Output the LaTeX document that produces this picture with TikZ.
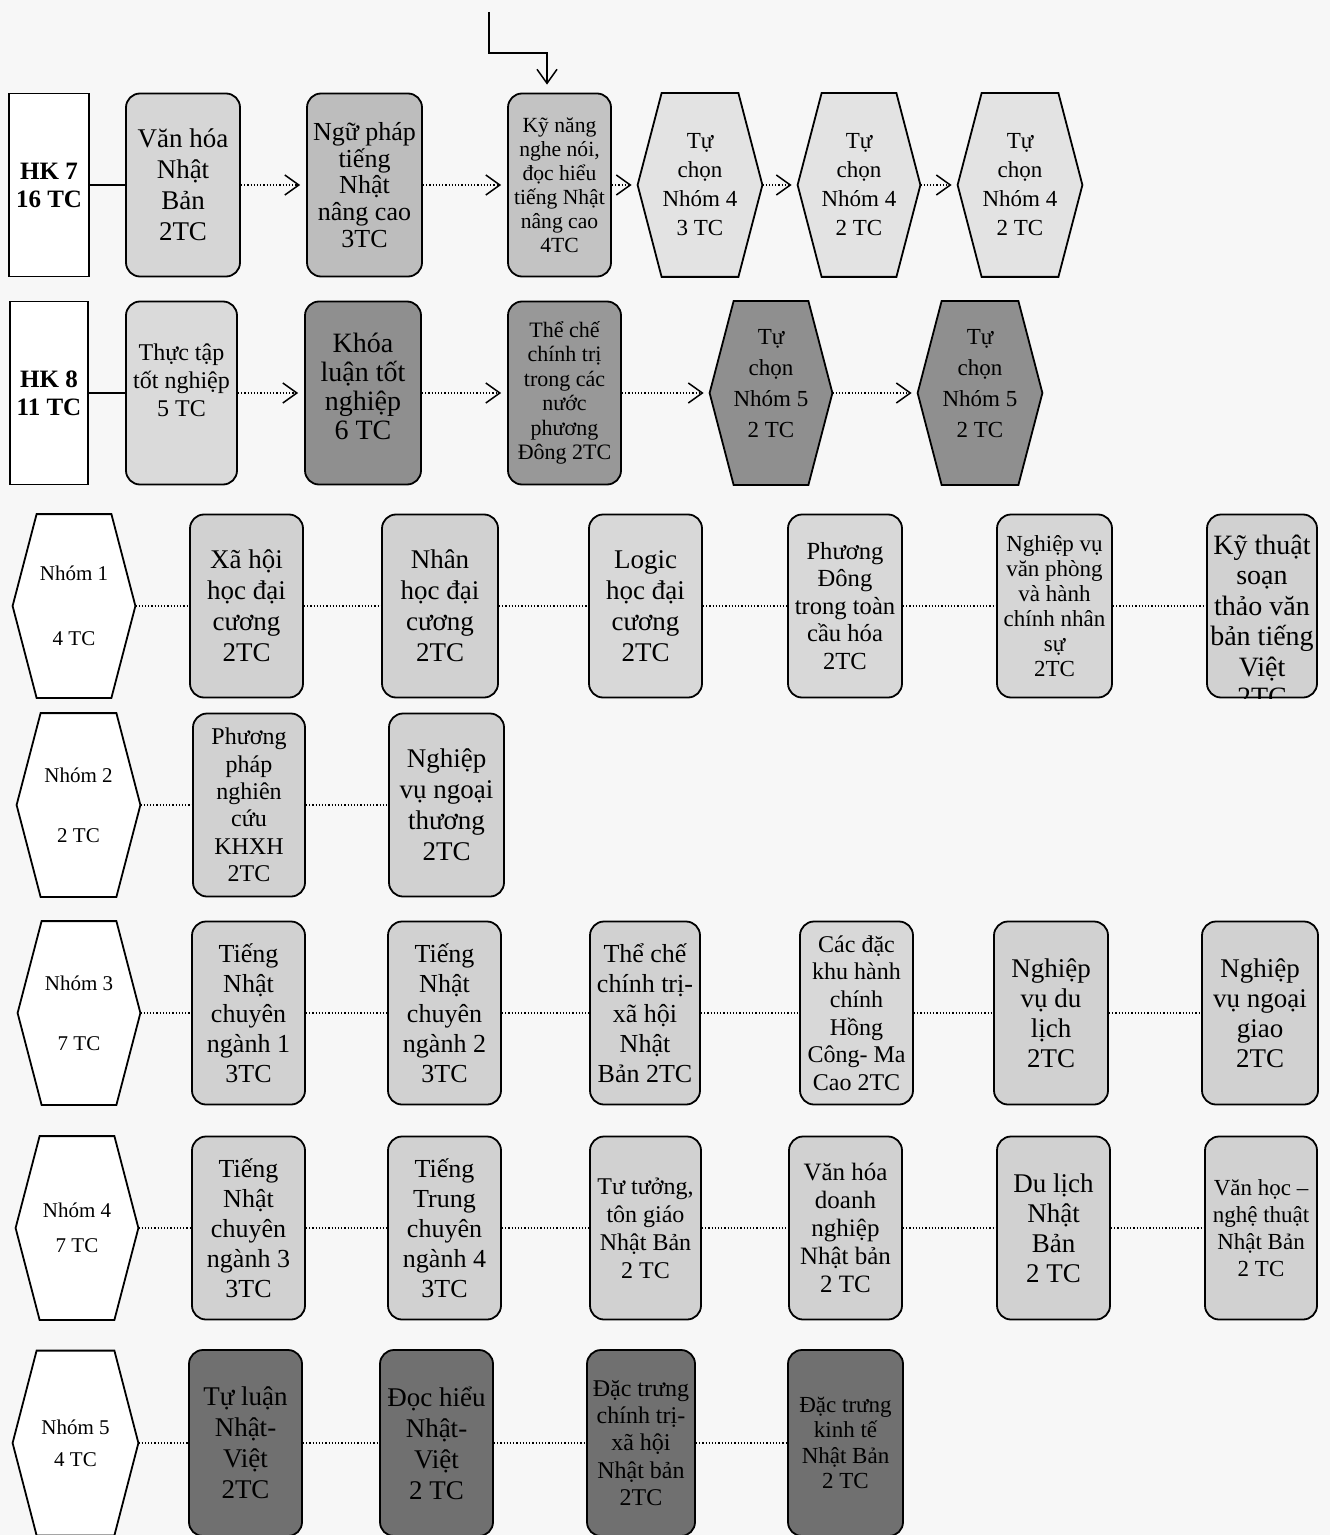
\documentclass[tikz,border=0pt]{standalone}
\usepackage{fontspec}
\setmainfont{Liberation Serif}
\usetikzlibrary{arrows.meta,positioning,backgrounds}
\colorlet{paper}{black!3}
\colorlet{pale}{black!11}
\colorlet{boxgray}{black!18}
\colorlet{midgray}{black!26}
\colorlet{darkgray}{black!44}
\colorlet{deepgray}{black!56}
\tikzset{
  fs/.style 2 args={font=\fontsize{#1}{#2}\selectfont},
  course/.style={draw, line width=0.9pt, rounded corners=7pt, align=center, inner sep=1pt,
    minimum width=56.5pt, minimum height=91.5pt, fill=boxgray},
  hexa/.style={align=center, inner sep=0pt, minimum width=61.5pt, minimum height=91.5pt},
  term/.style={draw, line width=0.9pt, fill=white, align=center, minimum width=39pt,
    minimum height=91.5pt, font=\fontsize{12.5}{14}\selectfont\bfseries},
  flow/.style={densely dotted, line width=0.6pt,
    -{Straight Barb[length=7pt,width=10pt,line width=0.75pt]}, shorten >=3pt},
  link/.style={densely dotted, line width=0.6pt},
  feed/.style={line width=0.6pt},
}
\begin{document}
\begin{tikzpicture}[x=0.5pt, y=-0.5pt]
    \useasboundingbox (0,0) rectangle (1330,1535);
    % HK 7
    \node[term] (hk7) at (49,185) {HK 7\\16 TC};
    \node[course, fill=boxgray!90, fs={13.5}{15.5}, minimum width=57pt] (vh) at (183,185) {Văn hóa\\Nhật\\Bản\\2TC};
    \node[course, fill=midgray, fs={13}{13.3}, minimum width=57.5pt] (np) at (364.5,185) {Ngữ pháp\\tiếng\\Nhật\\nâng cao\\3TC};
    \node[course, fill=midgray!90, fs={10.8}{12}, minimum width=51.5pt] (kn) at (559.5,185) {Kỹ năng\\nghe nói,\\đọc hiểu\\tiếng Nhật\\nâng cao\\4TC};
    \node[hexa, fs={11.5}{14.5}, minimum width=62pt] (t1) at (700,185) {Tự\\chọn\\Nhóm 4\\3 TC};
    \node[hexa, fs={11.5}{14.5}, minimum width=61pt] (t2) at (859,185) {Tự\\chọn\\Nhóm 4\\2 TC};
    \node[hexa, fs={11.5}{14.5}, minimum width=62pt] (t3) at (1020,185) {Tự\\chọn\\Nhóm 4\\2 TC};
    % HK 8
    \node[term] (hk8) at (49,393) {HK 8\\11 TC};
    \node[course, fill=boxgray!80, fs={12}{14}, minimum width=55.5pt] (tt) at (181.5,393) {Thực tập\\tốt nghiệp\\5 TC\\[-1pt]};
    \node[course, fill=darkgray, fs={14}{14.5}, minimum width=58pt] (kl) at (363,393) {Khóa\\luận tốt\\nghiệp\\6 TC\\[-8pt]};
    \node[course, fill=darkgray!92, fs={11}{12.2}] (tc) at (564.5,393) {Thể chế\\chính trị\\trong các\\nước\\phương\\Đông 2TC};
    \node[hexa, fs={11.5}{15.5}, minimum width=61pt] (t4) at (771,393) {Tự\\chọn\\Nhóm 5\\2 TC\\[-6pt]};
    \node[hexa, fs={11.5}{15.5}, minimum width=62pt] (t5) at (980,393) {Tự\\chọn\\Nhóm 5\\2 TC\\[-6pt]};
    % Nhom 1
    \node[hexa, fs={10.5}{15}, minimum width=61pt] (n1) at (74,606) {Nhóm 1\\[17.5pt]4 TC};
    \node[course, fs={13.5}{15.5}] (a1) at (246.5,606) {Xã hội\\học đại\\cương\\2TC};
    \node[course, fs={13.5}{15.5}, minimum width=58pt] (a2) at (440,606) {Nhân\\học đại\\cương\\2TC};
    \node[course, fill=boxgray!85, fs={13.5}{15.5}] (a3) at (645.5,606) {Logic\\học đại\\cương\\2TC};
    \node[course, fill=boxgray!85, fs={12.3}{13.75}, minimum width=57pt] (a4) at (845,606) {Phương\\Đông\\trong toàn\\cầu hóa\\2TC};
    \node[course, fill=boxgray!90, fs={11.5}{12.5}, minimum width=57.5pt] (a5) at (1054.5,606) {Nghiệp vụ\\văn phòng\\và hành\\chính nhân\\sự\\2TC};
    \node[course, minimum width=55pt] (a6) at (1262,606) {};
    \begin{scope}
    \clip[rounded corners=7pt] (a6.south west) rectangle (a6.north east);
    \node[fs={14}{15.25}, align=center, inner sep=0pt, below=10.5pt of a6.north] (a6t) {Kỹ thuật\\soạn\\thảo văn\\bản tiếng\\Việt\\2TC};
    \end{scope}
    % Nhom 2
    \node[hexa, fs={10.5}{15}, minimum width=61.5pt] (n2) at (78.5,805) {Nhóm 2\\[15pt]2 TC};
    \node[course, fs={12}{13.7}, minimum width=56pt] (b1) at (249,805) {Phương\\pháp\\nghiên\\cứu\\KHXH\\2TC};
    \node[course, fs={13.5}{15.5}, minimum width=57.5pt] (b2) at (446.5,805) {Nghiệp\\vụ ngoại\\thương\\2TC};
    % Nhom 3
    \node[hexa, fs={10.5}{15}, minimum width=61pt] (n3) at (79,1013) {Nhóm 3\\[15pt]7 TC};
    \node[course, fs={13}{15}] (c1) at (248.5,1013) {Tiếng\\Nhật\\chuyên\\ngành 1\\3TC};
    \node[course, fs={13}{15}] (c2) at (444.5,1013) {Tiếng\\Nhật\\chuyên\\ngành 2\\3TC};
    \node[course, fs={13}{15}, minimum width=55pt] (c3) at (645,1013) {Thể chế\\chính trị-\\xã hội\\Nhật\\Bản 2TC};
    \node[course, fill=boxgray!85, fs={12}{13.8}] (c4) at (856.5,1013) {Các đặc\\khu hành\\chính\\Hồng\\Công- Ma\\Cao 2TC};
    \node[course, fs={13.5}{15}, minimum width=57pt] (c5) at (1051,1013) {Nghiệp\\vụ du\\lịch\\2TC};
    \node[course, fs={13.5}{15}, minimum width=58pt] (c6) at (1260,1013) {Nghiệp\\vụ ngoại\\giao\\2TC};
    % Nhom 4
    \node[hexa, fs={10.5}{17.5}, minimum width=61pt] (n4) at (77,1228) {Nhóm 4\\7 TC};
    \node[course, fs={13}{15}] (d1) at (248.5,1228) {Tiếng\\Nhật\\chuyên\\ngành 3\\3TC};
    \node[course, fs={13}{15}] (d2) at (444.5,1228) {Tiếng\\Trung\\chuyên\\ngành 4\\3TC};
    \node[course, fs={12}{14}, minimum width=55.5pt] (d3) at (645.5,1228) {Tư tưởng,\\tôn giáo\\Nhật Bản\\2 TC};
    \node[course, fs={12.5}{14}] (d4) at (845.5,1228) {Văn hóa\\doanh\\nghiệp\\Nhật bản\\2 TC};
    \node[course, fs={13.5}{15}] (d5) at (1053.5,1228) {Du lịch\\Nhật\\Bản\\2 TC};
    \node[course, fs={11.5}{13.5}, minimum width=56pt] (d6) at (1261,1228) {Văn học –\\nghệ thuật\\Nhật Bản\\2 TC};
    % Nhom 5
    \node[hexa, fs={10.5}{16}, minimum width=62.5pt, minimum height=92pt] (n5) at (75.5,1443) {Nhóm 5\\4 TC};
    \node[course, fill=deepgray, fs={13.5}{15.5}, minimum height=93pt] (e1) at (245.5,1443) {Tự luận\\Nhật-\\Việt\\2TC};
    \node[course, fill=deepgray, fs={13.5}{15.5}, minimum height=93pt] (e2) at (436.5,1443) {Đọc hiểu\\Nhật-\\Việt\\2 TC};
    \node[course, fill=deepgray, fs={12}{13.7}, minimum width=54pt, minimum height=93pt] (e3) at (641,1443) {Đặc trưng\\chính trị-\\xã hội\\Nhật bản\\2TC};
    \node[course, fill=deepgray, fs={11.5}{12.7}, minimum width=57.5pt, minimum height=93pt] (e4) at (845.5,1443) {Đặc trưng\\kinh tế\\Nhật Bản\\2 TC};
    % hexagons and paper
    \begin{scope}[on background layer]
    \fill[paper] (0,0) rectangle (1330,1535);
    \foreach \h/\c in {t1/pale,t2/pale,t3/pale,t4/darkgray,t5/darkgray,
        n1/white,n2/white,n3/white,n4/white,n5/white}
      \filldraw[fill=\c, line width=0.9pt] (\h.west) -- ([xshift=12pt]\h.north west)
        -- ([xshift=-12pt]\h.north east) -- (\h.east)
        -- ([xshift=-12pt]\h.south east) -- ([xshift=12pt]\h.south west) -- cycle;
    \end{scope}
    % connectors
    \coordinate (src) at (489,12);
    \draw[feed, -{Straight Barb[length=7pt,width=10pt,line width=0.75pt]}, shorten >=4pt]
        (src) -- ++(0,41) -| ([xshift=-6.25pt]kn.north);
    \draw[feed] (hk7) -- (vh);
    \draw[feed] (hk8) -- (tt);
    \foreach \a/\b in {vh/np,np/kn,kn/t1,t1/t2,t2/t3,tt/kl,kl/tc,tc/t4,t4/t5}
      \draw[flow] (\a) -- (\b);
    \foreach \a/\b in {n1/a1,a1/a2,a2/a3,a3/a4,a4/a5,a5/a6,n2/b1,b1/b2,
        n3/c1,c1/c2,c2/c3,c3/c4,c4/c5,c5/c6,n4/d1,d1/d2,d2/d3,d3/d4,d4/d5,d5/d6,
        n5/e1,e1/e2,e2/e3,e3/e4}
      \draw[link] (\a) -- (\b);
\end{tikzpicture}
\end{document}
